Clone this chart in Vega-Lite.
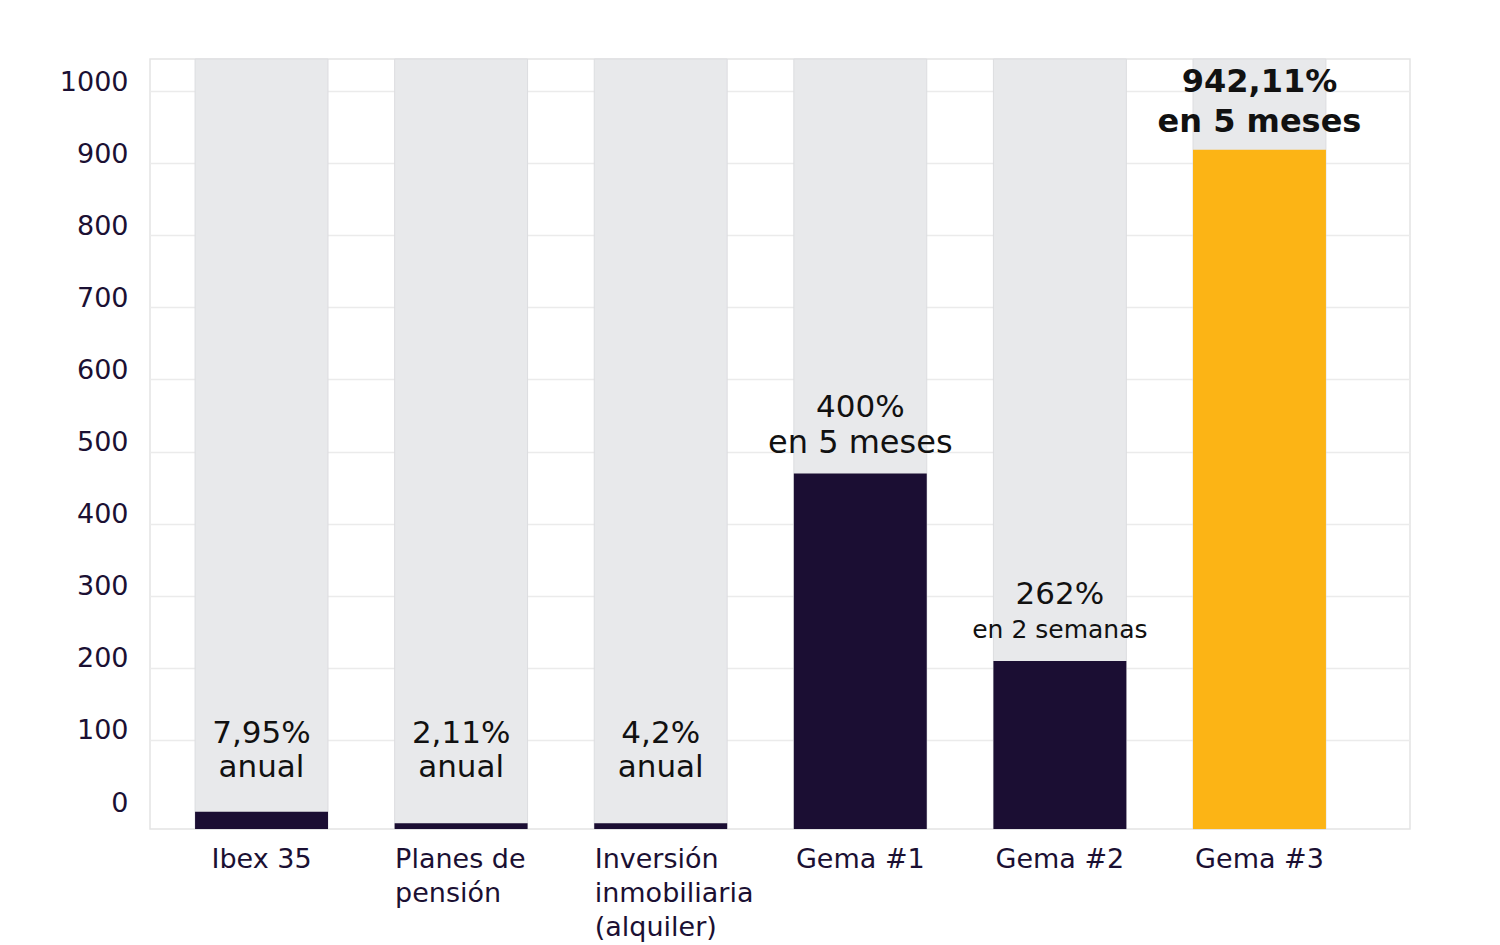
{
  "$schema": "https://vega.github.io/schema/vega-lite/v6.json",
  "width": 1260,
  "height": 770,
  "autosize": {"type": "none"},
  "padding": {"left": 150, "top": 59, "right": 90, "bottom": 116},
  "background": "white",
  "config": {
    "view": {"stroke": "#e4e4e4", "strokeWidth": 1.5},
    "font": "DejaVu Sans",
    "text": {"font": "DejaVu Sans", "color": "#111111", "baseline": "middle"}
  },
  "data": {
    "values": [
      {"categoria": "Ibex 35", "valor": 24, "rentabilidad": "7,95%", "periodo": "anual"},
      {"categoria": "Planes de pensión", "valor": 8, "rentabilidad": "2,11%", "periodo": "anual"},
      {"categoria": "Inversión inmobiliaria (alquiler)", "valor": 8, "rentabilidad": "4,2%", "periodo": "anual"},
      {"categoria": "Gema #1", "valor": 493, "rentabilidad": "400%", "periodo": "en 5 meses"},
      {"categoria": "Gema #2", "valor": 233, "rentabilidad": "262%", "periodo": "en 2 semanas"},
      {"categoria": "Gema #3", "valor": 942, "rentabilidad": "942,11%", "periodo": "en 5 meses"}
    ]
  },
  "encoding": {
    "x": {
      "field": "categoria",
      "type": "nominal",
      "sort": null,
      "title": null,
      "scale": {"paddingInner": 0.334, "paddingOuter": 0.3235, "align": 0.349},
      "axis": {
        "domain": false,
        "ticks": false,
        "labelAngle": 0,
        "labelFont": "DejaVu Sans",
        "labelFontSize": 27,
        "labelColor": "#1b1033",
        "labelBaseline": "top",
        "labelPadding": 17,
        "labelLineHeight": 34,
        "labelLimit": 400,
        "labelAlign": {"condition": {"test": "datum.value === 'Planes de pensión' || datum.value === 'Inversión inmobiliaria (alquiler)'", "value": "left"}, "value": "center"},
        "labelOffset": {"condition": {"test": "datum.value === 'Planes de pensión' || datum.value === 'Inversión inmobiliaria (alquiler)'", "value": -66}, "value": 0},
        "labelExpr": "datum.value === 'Planes de pensión' ? ['Planes de', 'pensión'] : datum.value === 'Inversión inmobiliaria (alquiler)' ? ['Inversión', 'inmobiliaria', '(alquiler)'] : datum.label"
      }
    },
    "y": {"title": null}
  },
  "layer": [
    {
      "mark": {"type": "bar", "color": "#e8e9eb", "stroke": "#dcdde0", "strokeWidth": 1},
      "encoding": {
        "y": {
          "datum": 1068,
          "type": "quantitative",
          "title": null,
          "scale": {"domain": [0, 1068], "nice": false, "zero": true},
          "axis": {
            "title": null,
            "values": [0, 100, 200, 300, 400, 500, 600, 700, 800, 900, 1000],
            "format": "d",
            "domain": false,
            "ticks": false,
            "grid": true,
            "gridColor": "#ebebeb",
            "gridWidth": 1.5,
            "gridOpacity": {"condition": {"test": "datum.value === 0", "value": 0}, "value": 1},
            "tickOffset": -17,
            "labelOffset": -9,
            "labelPadding": 22,
            "labelFont": "DejaVu Sans",
            "labelFontSize": 27,
            "labelColor": "#1b1033"
          }
        }
      }
    },
    {
      "mark": {"type": "bar"},
      "encoding": {
        "y": {"field": "valor", "type": "quantitative", "title": null},
        "color": {"condition": {"test": "datum.categoria === 'Gema #3'", "value": "#fcb415"}, "value": "#1b0e33"}
      }
    },
    {
      "transform": [{"filter": "datum.valor < 50"}],
      "mark": {"type": "text", "fontSize": 31, "dy": -95},
      "encoding": {"y": {"datum": 0, "type": "quantitative"}, "text": {"field": "rentabilidad"}}
    },
    {
      "transform": [{"filter": "datum.valor < 50"}],
      "mark": {"type": "text", "fontSize": 31, "dy": -61},
      "encoding": {"y": {"datum": 0, "type": "quantitative"}, "text": {"field": "periodo"}}
    },
    {
      "transform": [{"filter": "datum.valor >= 50 && datum.categoria !== 'Gema #3'"}],
      "mark": {"type": "text", "fontSize": 31, "dy": -66},
      "encoding": {"y": {"field": "valor", "type": "quantitative"}, "text": {"field": "rentabilidad"}}
    },
    {
      "transform": [{"filter": "datum.valor >= 50 && datum.categoria !== 'Gema #3'"}],
      "mark": {"type": "text", "dy": -31},
      "encoding": {
        "y": {"field": "valor", "type": "quantitative"},
        "text": {"field": "periodo"},
        "size": {"condition": {"test": "datum.categoria === 'Gema #2'", "value": 25}, "value": 32}
      }
    },
    {
      "transform": [{"filter": "datum.categoria === 'Gema #3'"}],
      "mark": {"type": "text", "fontSize": 32, "fontWeight": "bold", "dy": -68},
      "encoding": {"y": {"field": "valor", "type": "quantitative"}, "text": {"field": "rentabilidad"}}
    },
    {
      "transform": [{"filter": "datum.categoria === 'Gema #3'"}],
      "mark": {"type": "text", "fontSize": 32, "fontWeight": "bold", "dy": -28},
      "encoding": {"y": {"field": "valor", "type": "quantitative"}, "text": {"field": "periodo"}}
    }
  ]
}
